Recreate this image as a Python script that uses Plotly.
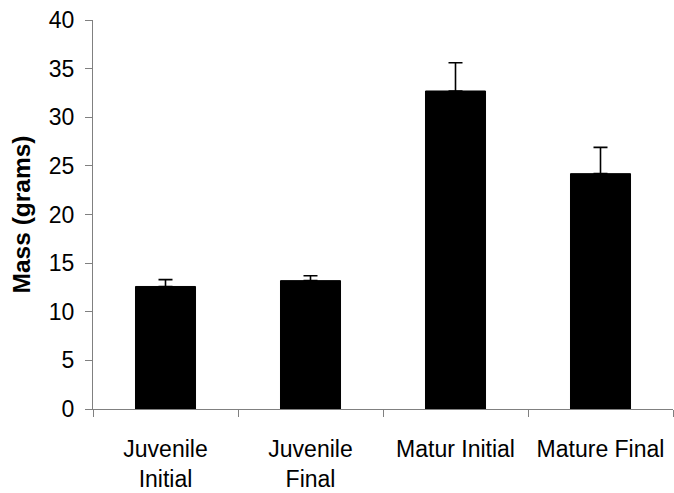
import plotly.graph_objects as go

categories = ["Juvenile<br>Initial", "Juvenile<br>Final", "Matur Initial", "Mature Final"]
mass_means = [12.6, 13.2, 32.7, 24.2]
mass_errors = [0.7, 0.5, 2.9, 2.7]
y_ticks = [0, 5, 10, 15, 20, 25, 30, 35, 40]

FONT = "Liberation Sans, Arial, sans-serif"
AXIS_COLOR = "#808080"

fig = go.Figure(
    go.Bar(
        x=categories,
        y=mass_means,
        width=0.414,
        marker=dict(color="black", line=dict(color="black", width=1)),
        error_y=dict(
            type="data",
            array=mass_errors,
            symmetric=False,
            arrayminus=[0] * len(mass_errors),
            color="black",
            thickness=1.6,
            width=7,
        ),
    )
)

fig.update_layout(
    width=674,
    height=493,
    margin=dict(l=93, r=1, t=20, b=84),
    plot_bgcolor="white",
    paper_bgcolor="white",
    font=dict(family=FONT, size=23, color="black"),
    showlegend=False,
    bargap=0.5,
)

fig.update_xaxes(
    type="category",
    range=[-0.5, 3.5],
    showline=True,
    linecolor=AXIS_COLOR,
    linewidth=1,
    ticks="outside",
    tickson="boundaries",
    ticklen=7,
    tickcolor=AXIS_COLOR,
    showgrid=False,
    zeroline=False,
    tickfont=dict(family=FONT, size=23, color="black"),
    ticklabelstandoff=19,
    automargin=False,
)

fig.update_yaxes(
    range=[0, 40],
    tickvals=y_ticks,
    ticktext=[str(v) for v in y_ticks],
    showline=True,
    linecolor=AXIS_COLOR,
    linewidth=1,
    ticks="outside",
    ticklen=7,
    tickcolor=AXIS_COLOR,
    showgrid=False,
    zeroline=False,
    tickfont=dict(family=FONT, size=23, color="black"),
    ticklabelstandoff=6,
    title=dict(
        text="<b>Mass (grams)</b>",
        font=dict(family=FONT, size=24.5, color="black"),
        standoff=11,
    ),
    automargin=False,
)

fig.write_html(
    "out.html",
    config={"displayModeBar": False},
    post_script="document.body.style.margin='0';",
)
